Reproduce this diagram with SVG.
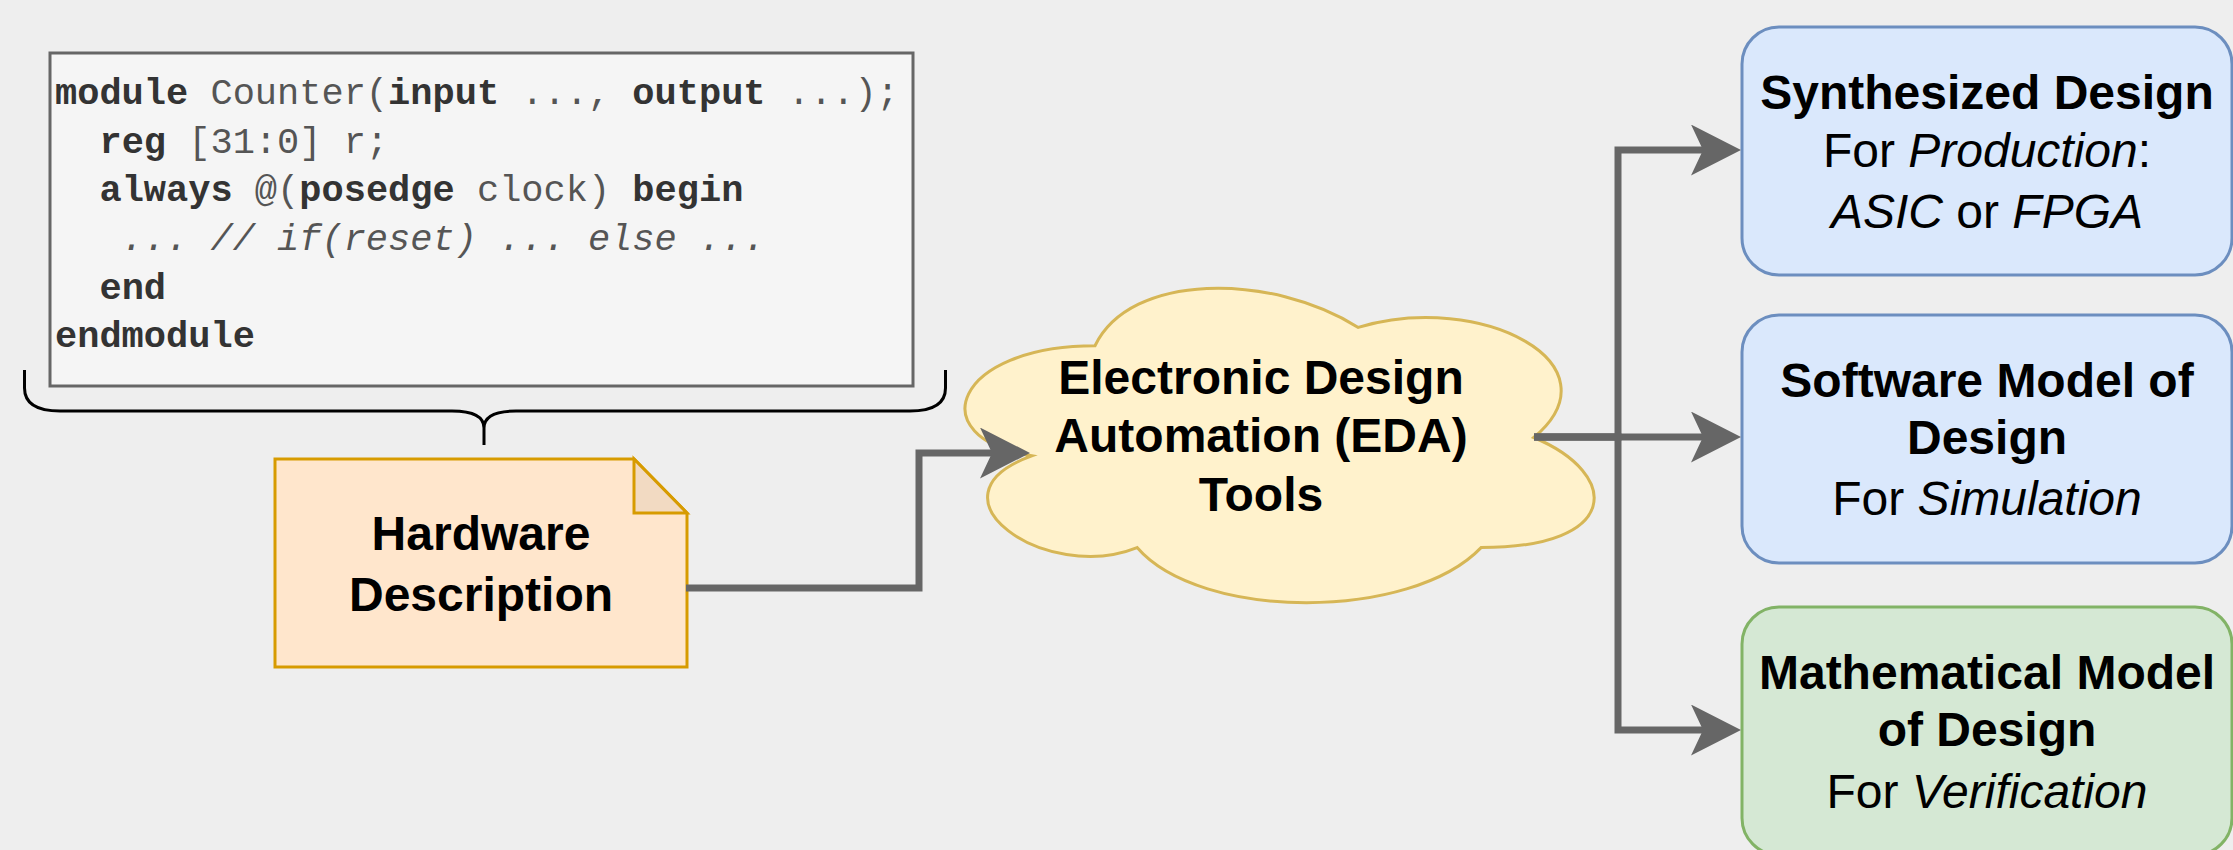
<svg xmlns="http://www.w3.org/2000/svg" width="2233" height="850" viewBox="0 0 2233 850">
<defs>
<style>
.code{font-family:"Liberation Mono","Courier New",monospace;font-size:37px;fill:#555}
.code .k{font-weight:bold;fill:#333}
.code .c{font-style:italic}
.lbl{font-family:"Liberation Sans",Arial,Helvetica,sans-serif;font-size:48px;fill:#000;text-anchor:middle}
.b{font-weight:bold}
.i{font-style:italic}
.edge{fill:none;stroke:#666;stroke-width:7;stroke-linejoin:miter}
.box{stroke-width:3}
</style>
<marker id="arr" viewBox="0 0 50 51" refX="12" refY="25.5" markerWidth="50" markerHeight="51" markerUnits="userSpaceOnUse" orient="auto">
<path d="M0,0 L50,25.5 L0,51 L12,25.5 Z" fill="#666"/>
</marker>
</defs>
<rect x="0" y="0" width="2233" height="850" fill="#eeeeee"/>

<g id="code">
<rect x="50" y="53" width="863" height="333" fill="#f5f5f5" stroke="#666" stroke-width="3"/>
<text class="code" xml:space="preserve" x="55" y="104"><tspan class="k">module</tspan> Counter(<tspan class="k">input</tspan> ..., <tspan class="k">output</tspan> ...);</text>
<text class="code" xml:space="preserve" x="55" y="153">  <tspan class="k">reg</tspan> [31:0] r;</text>
<text class="code" xml:space="preserve" x="55" y="201">  <tspan class="k">always</tspan> @(<tspan class="k">posedge</tspan> clock) <tspan class="k">begin</tspan></text>
<text class="code" xml:space="preserve" x="55" y="250"><tspan class="c">   ... // if(reset) ... else ...</tspan></text>
<text class="code" xml:space="preserve" x="55" y="299">  <tspan class="k">end</tspan></text>
<text class="code" xml:space="preserve" x="55" y="347"><tspan class="k">endmodule</tspan></text>
</g>

<g id="brace">
<path d="M24.5 370 L24.5 388 Q24.5 411 60 411 L452 411 Q484 411 484 428 Q484 411 516 411 L910 411 Q945.5 411 945.5 388 L945.5 370 M484 428 L484 445" fill="none" stroke="#000" stroke-width="3"/>
</g>

<g id="hardware">
<path d="M275 459 L634 459 L687 513 L687 667 L275 667 Z" fill="#ffe6cc" stroke="#d79b00" stroke-width="3"/>
<path d="M634 459 L634 513 L687 513 Z" fill="#f2dac2" stroke="#d79b00" stroke-width="3" stroke-linejoin="miter"/>
<text class="lbl b" x="481" y="550">Hardware</text>
<text class="lbl b" x="481" y="611">Description</text>
</g>

<g id="eda">
<path d="M1095 345.75 C954.6 345.75 919.5 437.5 1031.8 455.85 C919.5 496.2 1045.9 584.3 1137.1 547.6 C1200.3 621 1410.9 621 1481.1 547.6 C1621.5 547.6 1621.5 474.2 1533.75 437.5 C1621.5 364.1 1481.1 290.7 1358.25 327.4 C1270.5 272.35 1130.1 272.35 1095 345.75 Z" fill="#fff2cc" stroke="#d6b656" stroke-width="3"/>
<text class="lbl b" x="1261" y="394">Electronic Design</text>
<text class="lbl b" x="1261" y="452">Automation (EDA)</text>
<text class="lbl b" x="1261" y="511">Tools</text>
</g>

<g id="synth">
<rect class="box" x="1742" y="27" width="490" height="248" rx="37" ry="37" fill="#dae8fc" stroke="#6c8ebf"/>
<text class="lbl b" x="1987" y="109">Synthesized Design</text>
<text class="lbl" x="1987" y="167">For <tspan class="i">Production</tspan>:</text>
<text class="lbl" x="1987" y="228"><tspan class="i">ASIC</tspan> or <tspan class="i">FPGA</tspan></text>
</g>

<g id="software">
<rect class="box" x="1742" y="315" width="490" height="248" rx="37" ry="37" fill="#dae8fc" stroke="#6c8ebf"/>
<text class="lbl b" x="1987" y="397">Software Model of</text>
<text class="lbl b" x="1987" y="454">Design</text>
<text class="lbl" x="1987" y="515">For <tspan class="i">Simulation</tspan></text>
</g>

<g id="math">
<rect class="box" x="1742" y="607" width="490" height="248" rx="37" ry="37" fill="#d5e8d4" stroke="#82b366"/>
<text class="lbl b" x="1987" y="689">Mathematical Model</text>
<text class="lbl b" x="1987" y="746">of Design</text>
<text class="lbl" x="1987" y="808">For <tspan class="i">Verification</tspan></text>
</g>

<g id="connectors">
<path class="edge" d="M686 588 L919 588 L919 453 L992 453" marker-end="url(#arr)"/>
<path class="edge" d="M1534 437 L1618 437 L1618 150 L1703 150" marker-end="url(#arr)"/>
<path class="edge" d="M1534 437 L1703 437" marker-end="url(#arr)"/>
<path class="edge" d="M1534 437 L1618 437 L1618 730 L1703 730" marker-end="url(#arr)"/>
</g>
</svg>
